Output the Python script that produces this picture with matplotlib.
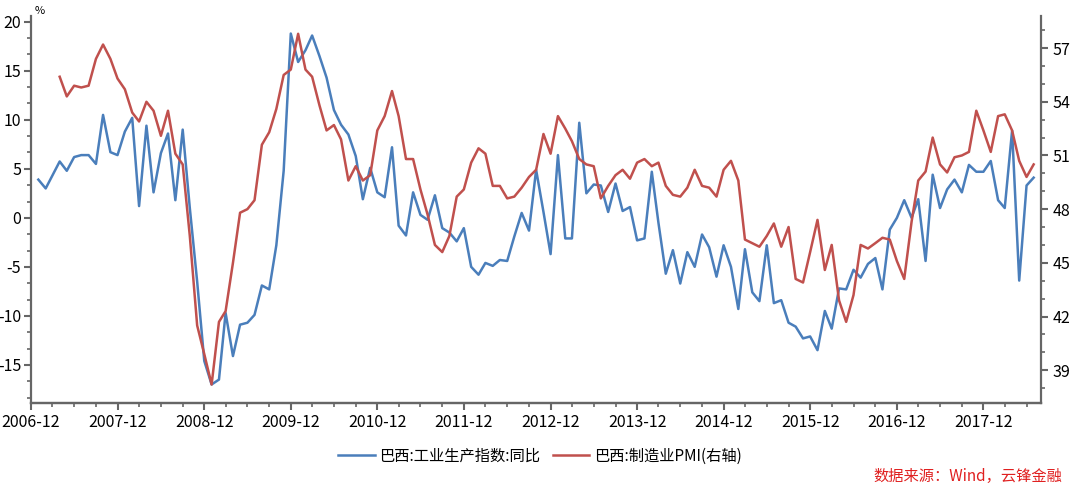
import pandas as pd
import matplotlib
matplotlib.use("Agg")
import matplotlib.pyplot as plt
import matplotlib.dates as mdates
from matplotlib.ticker import MultipleLocator

plt.rcParams['font.family'] = ['Noto Sans CJK SC', 'DejaVu Sans']
plt.rcParams['axes.unicode_minus'] = False

# Brazil industrial production YoY (%), monthly from 2007-01
ip_start = '2007-01'
ip_yoy = [3.9, 3.0, 4.3, 5.75, 4.8, 6.2, 6.4, 6.4, 5.5, 10.5, 6.7, 6.4,
          8.8, 10.2, 1.2, 9.4, 2.6, 6.6, 8.6, 1.8, 9.0, 1.0, -6.5, -14.6,
          -17.0, -16.5, -9.7, -14.1, -10.9, -10.7, -9.9, -6.9, -7.3, -2.8, 4.8, 18.8,
          15.9, 17.1, 18.6, 16.5, 14.3, 11.0, 9.5, 8.5, 6.3, 1.9, 5.1, 2.6,
          2.1, 7.2, -0.8, -1.8, 2.6, 0.3, -0.2, 2.3, -1.05, -1.5, -2.4, -1.05,
          -5.0, -5.8, -4.6, -4.9, -4.3, -4.4, -1.9, 0.5, -1.3, 4.9, 0.6, -3.7,
          6.4, -2.1, -2.1, 9.7, 2.5, 3.4, 3.3, 0.6, 3.5, 0.7, 1.1, -2.3,
          -2.1, 4.7, -0.5, -5.7, -3.3, -6.7, -3.5, -5.0, -1.7, -3.0, -6.0, -2.8,
          -5.0, -9.3, -3.2, -7.6, -8.5, -2.8, -8.7, -8.4, -10.7, -11.1, -12.3, -12.1,
          -13.5, -9.5, -11.3, -7.2, -7.3, -5.3, -6.1, -4.7, -4.1, -7.3, -1.2, 0.0,
          1.8, 0.0, 1.9, -4.4, 4.4, 1.0, 2.9, 3.9, 2.6, 5.4, 4.7, 4.7,
          5.8, 1.8, 1.0, 8.9, -6.4, 3.3, 4.1]

# Brazil manufacturing PMI, monthly from 2007-04
pmi_start = '2007-04'
pmi = [55.4, 54.3, 54.9, 54.8, 54.9, 56.4, 57.2, 56.4, 55.3,
       54.7, 53.4, 52.9, 54.0, 53.5, 52.1, 53.5, 51.1, 50.5, 46.5, 41.5, 39.9,
       38.2, 41.7, 42.3, 45.0, 47.8, 48.0, 48.5, 51.6, 52.3, 53.6, 55.5, 55.8,
       57.8, 55.8, 55.4, 53.8, 52.4, 52.7, 51.9, 49.6, 50.4, 49.6, 49.9, 52.4,
       53.2, 54.6, 53.2, 50.8, 50.8, 49.1, 47.7, 46.0, 45.6, 46.5, 48.7, 49.1,
       50.6, 51.4, 51.1, 49.3, 49.3, 48.6, 48.7, 49.2, 49.8, 50.2, 52.2, 51.1,
       53.2, 52.5, 51.8, 50.8, 50.5, 50.4, 48.6, 49.3, 49.9, 50.2, 49.7, 50.6,
       50.8, 50.4, 50.6, 49.3, 48.8, 48.7, 49.2, 50.2, 49.3, 49.2, 48.7, 50.2,
       50.7, 49.6, 46.3, 46.1, 45.9, 46.5, 47.2, 45.9, 47.0, 44.1, 43.9, 45.6,
       47.4, 44.6, 46.0, 42.9, 41.7, 43.2, 46.0, 45.8, 46.1, 46.4, 46.3, 45.1,
       44.1, 47.3, 49.6, 50.1, 52.0, 50.5, 50.05, 50.9, 51.0, 51.2, 53.5, 52.4,
       51.2, 53.2, 53.3, 52.4, 50.7, 49.8, 50.5]

ip_dates = pd.date_range(ip_start, periods=len(ip_yoy), freq='MS')
pmi_dates = pd.date_range(pmi_start, periods=len(pmi), freq='MS')

blue = '#4A7EBB'
red = '#C0504D'
grey = '#666666'

fig = plt.figure(figsize=(10.8, 4.94), dpi=100)
ax = fig.add_axes([0.0287, 0.184, 0.9352, 0.7838])
ax2 = ax.twinx()

l1, = ax.plot(ip_dates, ip_yoy, color=blue, lw=1.8, label='巴西:工业生产指数:同比')
l2, = ax2.plot(pmi_dates, pmi, color=red, lw=1.8, label='巴西:制造业PMI(右轴)')

ax.set_xlim(pd.Timestamp('2006-12-01'), pd.Timestamp('2018-08-01'))
ax.set_ylim(-18.9, 20.6)
ax2.set_ylim(37.16, 58.8)

ax.xaxis.set_major_locator(mdates.MonthLocator(bymonth=12))
ax.xaxis.set_minor_locator(mdates.MonthLocator(bymonth=[3, 6, 9, 12]))
ax.xaxis.set_major_formatter(mdates.DateFormatter('%Y-%m'))
ax.yaxis.set_major_locator(MultipleLocator(5))
ax.yaxis.set_minor_locator(MultipleLocator(5 / 3))
ax2.yaxis.set_major_locator(MultipleLocator(3))
ax2.yaxis.set_minor_locator(MultipleLocator(1))

for a in (ax, ax2):
    a.spines['top'].set_visible(False)
    for s in ('left', 'right', 'bottom'):
        a.spines[s].set_color(grey)
        a.spines[s].set_linewidth(1.6)
    a.tick_params(which='major', length=5, width=1.5, color=grey, labelsize=11.5)
    a.tick_params(which='minor', length=3, width=1.2, color=grey)
ax2.spines['left'].set_visible(False)
ax.spines['right'].set_visible(False)
ax.tick_params(axis='x', pad=3)
ax.tick_params(axis='y', pad=2)

ax.text(0.004, 1.0, '%', transform=ax.transAxes, fontsize=8, va='bottom', ha='left')

fig.legend(handles=[l1, l2], loc='center', bbox_to_anchor=(0.5, 0.077),
           ncol=2, frameon=False, fontsize=11, handlelength=2.4,
           handletextpad=0.3, columnspacing=0.8)

fig.text(0.984, 0.018, '数据来源：Wind，云锋金融', color='#E02020', fontsize=11,
         style='italic', ha='right', va='bottom')

fig.savefig('out.png', dpi=100)
